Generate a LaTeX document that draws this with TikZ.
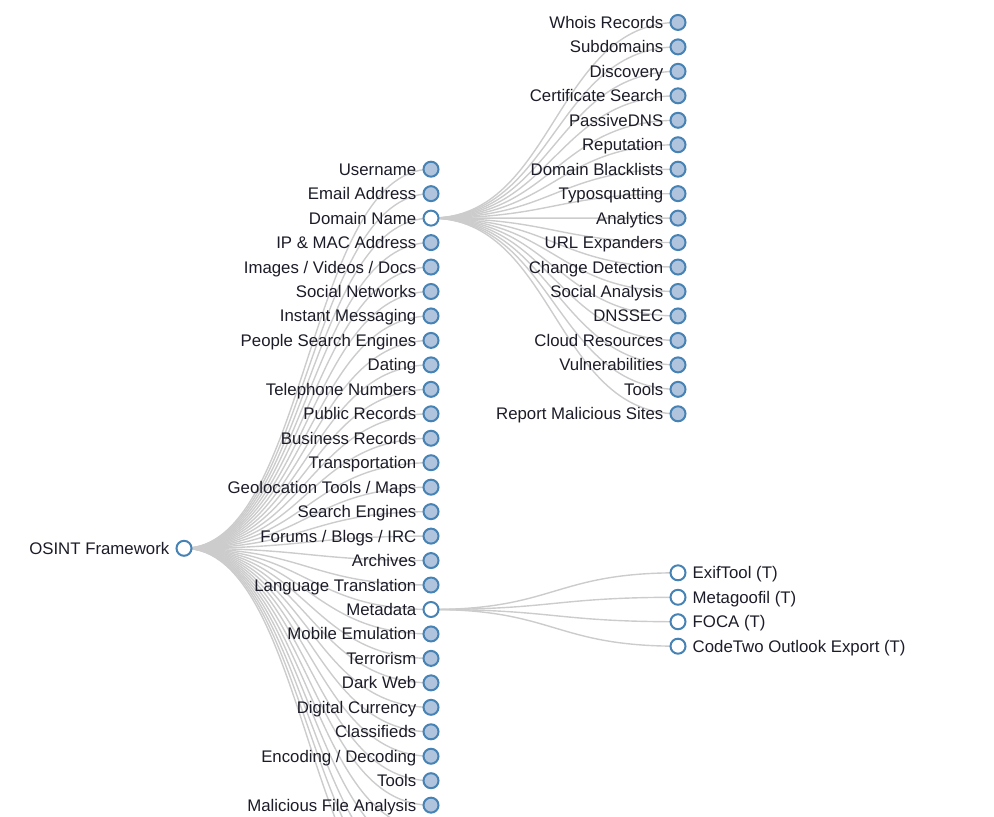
\documentclass[tikz,border=0pt]{standalone}
\usepackage{fontspec}
\setmainfont{Liberation Sans}
\pgfdeclarelayer{bg}
\pgfsetlayers{bg,main}
\definecolor{linkc}{HTML}{CCCCCC}
\definecolor{nodestroke}{HTML}{4682B4}
\definecolor{nodefill}{HTML}{B0C4DE}
\definecolor{txt}{HTML}{1C1C28}
\newcommand\mkone[4]{\node[#3] (#1) at (431,{169.2+#2*24.46}) {};\node[leftlbl] (#1t) at (#1.center) {#4};}
\newcommand\mktwo[3]{\node[closed] (#1) at (678,{22.44+#2*24.46}) {};\node[leftlbl] (#1t) at (#1.center) {#3};}
\newcommand\mkleaf[3]{\node[dot] (#1) at (678,{609.5+#2*24.46}) {};\node[rightlbl] (#1t) at (#1.center) {#3};}
\begin{document}
\begin{tikzpicture}[x=1pt,y=-1pt,
  dot/.style={circle,draw=nodestroke,line width=2pt,minimum size=15pt,inner sep=0pt,fill=white},
  closed/.style={dot,fill=nodefill},
  lbl/.style={font=\fontsize{16.8}{18}\selectfont,text=txt,inner sep=0pt},
  leftlbl/.style={lbl,anchor=base east,xshift=-14.5pt,yshift=-6pt},
  rightlbl/.style={lbl,anchor=base west,xshift=14.5pt,yshift=-6pt},
  link/.style={draw=linkc,line width=1.4pt},
  diag/.style={out=0,in=180,distance=123.5pt}]
\useasboundingbox (0,0) rectangle (994,817);
% root
\node[dot] (root) at (184,548.3) {};
\node[leftlbl] (roott) at (root.center) {OSINT Framework};
% level 1
\mkone{a0}{0}{closed}{Username}
\mkone{a1}{1}{closed}{Email Address}
\mkone{a2}{2}{dot}{Domain Name}
\mkone{a3}{3}{closed}{IP \& MAC Address}
\mkone{a4}{4}{closed}{Images / Videos / Docs}
\mkone{a5}{5}{closed}{Social Networks}
\mkone{a6}{6}{closed}{Instant Messaging}
\mkone{a7}{7}{closed}{People Search Engines}
\mkone{a8}{8}{closed}{Dating}
\mkone{a9}{9}{closed}{Telephone Numbers}
\mkone{a10}{10}{closed}{Public Records}
\mkone{a11}{11}{closed}{Business Records}
\mkone{a12}{12}{closed}{Transportation}
\mkone{a13}{13}{closed}{Geolocation Tools / Maps}
\mkone{a14}{14}{closed}{Search Engines}
\mkone{a15}{15}{closed}{Forums / Blogs / IRC}
\mkone{a16}{16}{closed}{Archives}
\mkone{a17}{17}{closed}{Language Translation}
\mkone{a18}{18}{dot}{Metadata}
\mkone{a19}{19}{closed}{Mobile Emulation}
\mkone{a20}{20}{closed}{Terrorism}
\mkone{a21}{21}{closed}{Dark Web}
\mkone{a22}{22}{closed}{Digital Currency}
\mkone{a23}{23}{closed}{Classifieds}
\mkone{a24}{24}{closed}{Encoding / Decoding}
\mkone{a25}{25}{closed}{Tools}
\mkone{a26}{26}{closed}{Malicious File Analysis}
% children below the visible frame
\coordinate (a27) at (431,{169.2+27*24.46});
\coordinate (a28) at (431,{169.2+28*24.46});
\coordinate (a29) at (431,{169.2+29*24.46});
\coordinate (a30) at (431,{169.2+30*24.46});
\coordinate (a31) at (431,{169.2+31*24.46});
% level 2: Domain Name
\mktwo{d0}{0}{Whois Records}
\mktwo{d1}{1}{Subdomains}
\mktwo{d2}{2}{Discovery}
\mktwo{d3}{3}{Certificate Search}
\mktwo{d4}{4}{PassiveDNS}
\mktwo{d5}{5}{Reputation}
\mktwo{d6}{6}{Domain Blacklists}
\mktwo{d7}{7}{Typosquatting}
\mktwo{d8}{8}{Analytics}
\mktwo{d9}{9}{URL Expanders}
\mktwo{d10}{10}{Change Detection}
\mktwo{d11}{11}{Social Analysis}
\mktwo{d12}{12}{DNSSEC}
\mktwo{d13}{13}{Cloud Resources}
\mktwo{d14}{14}{Vulnerabilities}
\mktwo{d15}{15}{Tools}
\mktwo{d16}{16}{Report Malicious Sites}
% level 2: Metadata
\mkleaf{m0}{-1.5}{ExifTool (T)}
\mkleaf{m1}{-0.5}{Metagoofil (T)}
\mkleaf{m2}{0.5}{FOCA (T)}
\mkleaf{m3}{1.5}{CodeTwo Outlook Export (T)}
% links
\begin{pgfonlayer}{bg}
\clip (0,0) rectangle (994,817);
\foreach \n in {a0,a1,a2,a3,a4,a5,a6,a7,a8,a9,a10,a11,a12,a13,a14,a15,a16,a17,a18,a19,a20,a21,a22,a23,a24,a25,a26,a27,a28,a29,a30,a31}
  \draw[link] (root.center) to[diag] (\n.center);
\foreach \n in {d0,d1,d2,d3,d4,d5,d6,d7,d8,d9,d10,d11,d12,d13,d14,d15,d16}
  \draw[link] (a2.center) to[diag] (\n.center);
\foreach \n in {m0,m1,m2,m3}
  \draw[link] (a18.center) to[diag] (\n.center);
\end{pgfonlayer}
\end{tikzpicture}
\end{document}
